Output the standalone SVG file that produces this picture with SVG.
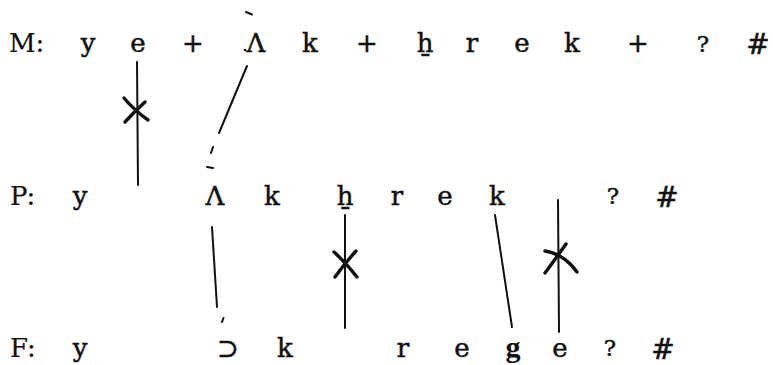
<svg xmlns="http://www.w3.org/2000/svg" width="773" height="365" viewBox="0 0 773 365">
<style>
.t{font-family:"DejaVu Serif","Liberation Serif",serif;font-size:26px;fill:#111;text-anchor:middle;stroke:#111;stroke-width:0.5}
.lab{text-anchor:start;stroke-width:0.2}
.q{font-size:23px}
.h{font-size:28px;font-style:italic}
.g{font-family:"Liberation Serif",serif;font-size:30px;font-weight:bold;stroke-width:0}
.ln{stroke:#111;stroke-width:2;fill:none;stroke-linecap:round}
.x{stroke:#111;stroke-width:3.4;fill:none;stroke-linecap:round}
</style>
<rect width="773" height="365" fill="#fff"/>
<g id="rowM">
<text class="t lab" x="9" y="52">M:</text>
<text class="t" x="88" y="52">y</text>
<text class="t" x="138" y="52">e</text>
<text class="t" x="193" y="52">+</text>
<text class="t" x="256" y="52">Λ</text>
<text class="t" x="310" y="52">k</text>
<text class="t" x="367" y="52">+</text>
<text class="t" x="425" y="52">ẖ</text>
<text class="t" x="472" y="52">r</text>
<text class="t" x="522" y="52">e</text>
<text class="t" x="572" y="52">k</text>
<text class="t" x="638" y="52">+</text>
<text class="t q" x="703" y="52">?</text>
<text class="t h" x="758" y="54">#</text>
<path class="ln" d="M246 12 L252 14.5"/>
<circle cx="245" cy="50" r="1.3" fill="#111"/>
</g>
<g id="rowP">
<text class="t lab" x="10" y="205">P:</text>
<text class="t" x="80" y="205">y</text>
<text class="t" x="215" y="205">Λ</text>
<text class="t" x="272" y="205">k</text>
<text class="t" x="345" y="205">ẖ</text>
<text class="t" x="397" y="205">r</text>
<text class="t" x="445" y="205">e</text>
<text class="t" x="497" y="205">k</text>
<text class="t q" x="613" y="204">?</text>
<text class="t h" x="667" y="207">#</text>
<path class="ln" d="M213 147 L211 153 M207 167 L213 168"/>
</g>
<g id="rowF">
<text class="t lab" x="10" y="357">F:</text>
<text class="t" x="80" y="357">y</text>
<text class="t" x="228" y="357">⊃</text>
<text class="t" x="285" y="357">k</text>
<text class="t" x="403" y="357">r</text>
<text class="t" x="462" y="357">e</text>
<text class="t g" x="513" y="357">g</text>
<text class="t" x="560" y="357">e</text>
<text class="t q" x="610" y="356">?</text>
<text class="t h" x="663" y="359">#</text>
<path class="ln" d="M223.5 318 L222 322"/>
</g>
<g id="connectors">
<path class="ln" d="M137 62 L138 185"/>
<path class="x" d="M124 98 Q134 110 148 120 M145 102 Q134 112 125 122"/>
<path class="ln" d="M247 66 L219 133"/>
<path class="ln" d="M212 227 L217 307"/>
<path class="ln" d="M345 215 L345 328"/>
<path class="x" d="M334 252 Q345 262 357 277 M356 251 Q345 263 335 277"/>
<path class="ln" d="M495 215 L512 327"/>
<path class="ln" d="M558 200 L559 332"/>
<path class="x" d="M566 244 Q556 258 545 273 M545 251 Q564 254 577 272"/>
</g>
</svg>
